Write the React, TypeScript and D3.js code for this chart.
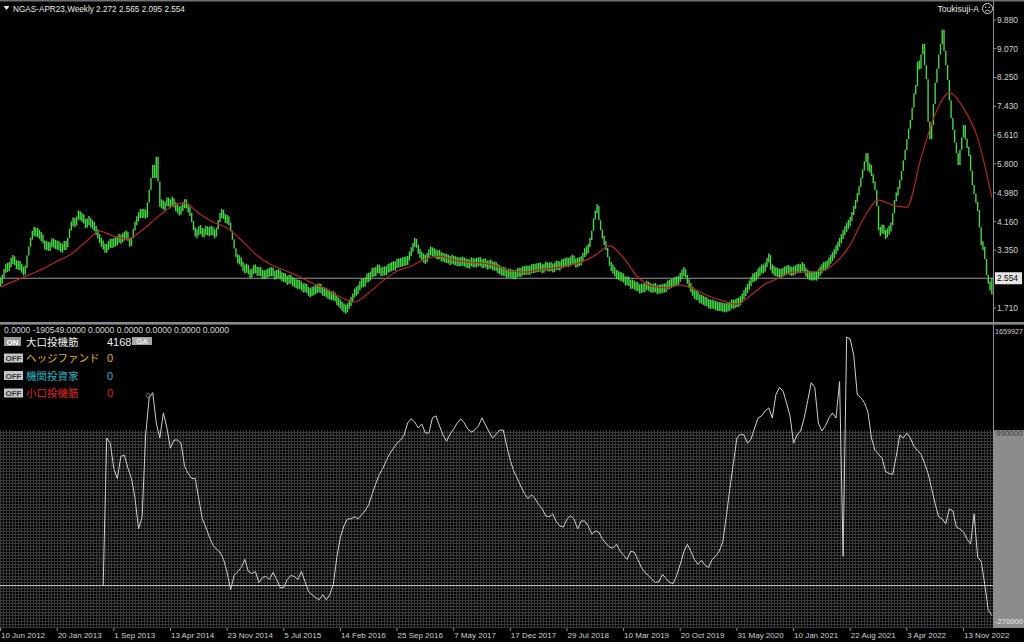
import React from "react";
import * as d3 from "d3";

// ---------- DATA ----------
// Weekly closes of NGAS-APR23 (first bar = week of 10 Jun 2012)
const priceCloses: number[] = [
  2.45, 2.60, 2.78, 2.90, 2.82, 2.95, 3.05, 3.12, 2.98, 2.90,
  2.95, 2.88, 2.80, 2.72, 2.85, 3.20, 3.45, 3.70, 3.85, 3.92,
  3.80, 3.90, 3.70, 3.78, 3.55, 3.44, 3.52, 3.40, 3.50, 3.62,
  3.48, 3.55, 3.45, 3.50, 3.36, 3.45, 3.52, 3.44, 3.70, 3.95,
  4.12, 4.20, 4.05, 4.30, 4.40, 4.25, 4.32, 4.15, 4.06, 4.18,
  4.20, 4.05, 4.10, 3.95, 3.87, 3.75, 3.60, 3.55, 3.45, 3.36,
  3.45, 3.52, 3.58, 3.50, 3.62, 3.55, 3.68, 3.70, 3.62, 3.78,
  3.72, 3.84, 3.65, 3.50, 3.70, 3.95, 4.12, 4.25, 4.35, 4.43,
  4.35, 4.45, 4.29, 4.70, 5.06, 5.40, 5.77, 5.40, 6.00, 5.30,
  4.58, 4.75, 4.52, 4.65, 4.80, 4.63, 4.70, 4.77, 4.62, 4.55,
  4.50, 4.43, 4.55, 4.62, 4.72, 4.60, 4.50, 4.40, 4.15, 3.95,
  3.78, 3.85, 3.95, 3.92, 3.80, 3.88, 3.95, 3.85, 3.90, 3.92,
  3.85, 3.78, 3.95, 4.20, 4.35, 4.43, 4.30, 4.20, 4.25, 4.12,
  3.90, 3.65, 3.40, 3.16, 3.05, 3.10, 2.93, 2.85, 2.78, 2.90,
  2.70, 2.65, 2.75, 2.85, 2.79, 2.72, 2.78, 2.70, 2.62, 2.68,
  2.65, 2.75, 2.70, 2.78, 2.68, 2.60, 2.72, 2.66, 2.65, 2.55,
  2.60, 2.52, 2.48, 2.55, 2.50, 2.42, 2.45, 2.35, 2.40, 2.36,
  2.30, 2.25, 2.32, 2.20, 2.15, 2.13, 2.22, 2.18, 2.28, 2.25,
  2.30, 2.22, 2.15, 2.20, 2.10, 2.08, 2.08, 2.02, 2.10, 1.95,
  1.90, 1.85, 1.80, 1.72, 1.70, 1.65, 1.78, 1.85, 1.94, 2.05,
  2.22, 2.15, 2.30, 2.38, 2.45, 2.40, 2.50, 2.62, 2.55, 2.68,
  2.75, 2.70, 2.79, 2.85, 2.78, 2.70, 2.80, 2.73, 2.80, 2.88,
  2.82, 2.95, 2.88, 2.93, 3.02, 2.95, 3.05, 2.98, 3.08, 3.00,
  3.12, 3.25, 3.36, 3.50, 3.64, 3.45, 3.30, 3.21, 3.15, 3.10,
  3.07, 3.20, 3.30, 3.36, 3.25, 3.30, 3.18, 3.25, 3.21, 3.12,
  3.18, 3.08, 3.15, 3.05, 3.07, 3.12, 3.02, 3.08, 2.98, 3.05,
  3.00, 3.08, 2.95, 3.02, 2.92, 2.99, 3.05, 2.95, 3.02, 2.98,
  3.06, 3.00, 2.94, 3.02, 2.96, 2.90, 2.98, 2.93, 2.88, 2.92,
  2.85, 2.80, 2.79, 2.72, 2.78, 2.70, 2.66, 2.74, 2.65, 2.70,
  2.62, 2.68, 2.75, 2.70, 2.73, 2.80, 2.74, 2.82, 2.76, 2.79,
  2.86, 2.80, 2.88, 2.82, 2.90, 2.85, 2.80, 2.88, 2.92, 2.84,
  2.90, 2.87, 2.82, 2.90, 2.95, 2.88, 2.93, 3.00, 2.95, 3.05,
  2.98, 3.02, 3.07, 3.12, 3.02, 2.96, 3.05, 3.00, 3.10, 3.20,
  3.36, 3.30, 3.50, 3.64, 3.90, 4.25, 4.45, 4.60, 4.20, 3.92,
  3.70, 3.55, 3.41, 3.15, 2.93, 2.85, 2.78, 2.70, 2.62, 2.66,
  2.56, 2.62, 2.50, 2.45, 2.52, 2.40, 2.36, 2.42, 2.30, 2.35,
  2.28, 2.22, 2.30, 2.25, 2.33, 2.38, 2.28, 2.30, 2.24, 2.32,
  2.26, 2.20, 2.28, 2.22, 2.30, 2.25, 2.32, 2.40, 2.36, 2.45,
  2.42, 2.50, 2.45, 2.55, 2.62, 2.70, 2.79, 2.60, 2.45, 2.35,
  2.22, 2.15, 2.05, 2.10, 2.00, 1.94, 1.98, 1.88, 1.92, 1.85,
  1.82, 1.80, 1.85, 1.76, 1.80, 1.72, 1.78, 1.71, 1.75, 1.68,
  1.76, 1.72, 1.80, 1.85, 1.78, 1.88, 1.84, 1.90, 1.94, 2.05,
  2.12, 2.22, 2.30, 2.42, 2.50, 2.62, 2.55, 2.68, 2.72, 2.79,
  2.85, 2.78, 2.95, 3.05, 3.21, 2.79, 2.85, 2.70, 2.78, 2.66,
  2.73, 2.65, 2.80, 2.72, 2.85, 2.75, 2.79, 2.70, 2.82, 2.76,
  2.88, 2.80, 2.85, 2.92, 2.75, 2.70, 2.62, 2.65, 2.58, 2.66,
  2.59, 2.64, 2.72, 2.79, 2.85, 2.92, 2.88, 2.98, 3.05, 3.13,
  3.20, 3.30, 3.42, 3.50, 3.64, 3.72, 3.85, 3.95, 4.05, 4.12,
  4.21, 4.40, 4.55, 4.75, 4.92, 5.15, 5.40, 5.63, 5.85, 6.10,
  5.60, 5.77, 5.45, 5.30, 5.06, 4.60, 3.92, 3.85, 4.05, 3.82,
  3.78, 3.90, 3.95, 4.06, 4.40, 4.77, 4.95, 5.10, 5.34, 5.60,
  5.90, 6.19, 6.50, 6.80, 7.04, 7.40, 7.80, 8.00, 8.70, 8.50,
  8.90, 9.20, 8.60, 8.20, 7.00, 6.50, 6.90, 7.50, 8.10, 8.50,
  8.90, 9.20, 9.60, 9.00, 8.60, 8.18, 7.60, 7.10, 6.76, 6.40,
  6.10, 5.77, 6.20, 6.55, 6.90, 6.50, 6.25, 6.05, 5.60, 5.20,
  4.95, 4.70, 4.49, 4.00, 3.50, 3.45, 3.10, 2.65, 2.40, 2.27, 2.554,
];

// Last bar OHLC (header)
const lastBarOHLC = [2.272, 2.565, 2.095, 2.554];

// Moving average (red), one reading every 8 weeks
const maStepWeeks = 8;
const maValues: number[] = [
  2.31, 2.48, 2.65, 2.82, 3.04, 3.24, 3.58, 3.89, 3.75, 3.67,
  3.92, 4.26, 4.57, 4.69, 4.40, 4.15, 3.98, 3.64, 3.24, 2.96,
  2.79, 2.62, 2.42, 2.25, 2.02, 1.88, 2.14, 2.48, 2.76, 2.90,
  3.10, 3.18, 3.07, 3.01, 2.99, 2.90, 2.76, 2.73, 2.79, 2.84,
  2.90, 3.01, 3.21, 3.47, 3.13, 2.59, 2.33, 2.28, 2.36, 2.25,
  2.05, 1.91, 1.82, 2.08, 2.39, 2.56, 2.73, 2.73, 2.76, 3.01,
  3.50, 4.29, 4.77, 4.63, 4.57, 5.97, 7.21, 7.81, 7.38, 6.53,
  4.85,
];

// Large speculators net position (thousands of contracts), every 2 weeks from week 58
const cotStartWeek = 58;
const cotStepWeeks = 2;
const cotNetThousands: number[] = [
  0, 940, 907, 747, 682, 824, 830, 747, 682, 554,
  361, 438, 959, 1197, 1229, 1036, 940, 1100, 1004, 875,
  927, 927, 907, 759, 714, 682, 682, 554, 425, 373,
  309, 258, 232, 213, 167, 84, -25, 65, 90, 116,
  167, 90, 77, 90, 20, 52, 58, 39, 84, 39,
  -13, -13, 39, 65, 58, 39, 90, 26, -38, -58,
  -77, -90, -58, -90, -58, 7, 180, 309, 380, 425,
  425, 438, 425, 451, 476, 515, 586, 650, 708, 747,
  798, 843, 875, 907, 927, 959, 1036, 1062, 1042, 1004,
  1030, 972, 972, 1068, 1081, 1017, 959, 920, 965, 997,
  1036, 1062, 1036, 997, 978, 991, 1017, 1068, 1023, 978,
  940, 965, 991, 991, 888, 798, 727, 682, 631, 586,
  554, 579, 554, 515, 489, 444, 438, 457, 406, 380,
  373, 425, 444, 425, 361, 412, 412, 380, 328, 348,
  341, 296, 270, 245, 238, 264, 219, 193, 167, 219,
  213, 167, 116, 84, 65, 39, 20, 26, 71, 45,
  20, 13, 65, 135, 213, 264, 219, 167, 135, 161,
  129, 116, 167, 187, 219, 277, 438, 618, 779, 940,
  965, 959, 907, 933, 1004, 1068, 1081, 1113, 1132, 1068,
  1216, 1261, 1242, 1165, 1081, 907, 959, 985, 1068, 1178,
  1293, 1261, 1036, 985, 1017, 1068, 1100, 1068, 1300, 187,
  1583, 1570, 1467, 1216, 1197, 1165, 1107, 940, 862, 837,
  811, 727, 714, 708, 824, 959, 940, 972, 940, 888,
  862, 837, 779, 714, 618, 521, 438, 425, 393, 489,
  476, 373, 361, 341, 296, 264, 457, 180, 155, 7,
  -154, -190.549,
];

const dateLabels = [
  "10 Jun 2012", "20 Jan 2013", "1 Sep 2013", "13 Apr 2014", "23 Nov 2014",
  "5 Jul 2015", "14 Feb 2016", "25 Sep 2016", "7 May 2017", "17 Dec 2017",
  "29 Jul 2018", "10 Mar 2019", "20 Oct 2019", "31 May 2020", "10 Jan 2021",
  "22 Aug 2021", "3 Apr 2022", "13 Nov 2022",
];
const priceTickValues = [9.88, 9.07, 8.25, 7.43, 6.61, 5.8, 4.98, 4.16, 3.35, 1.71];
const cotAxis = { max: 1659927, zone: 990000, min: -270000 };

const legendRows = [
  { btn: "ON", label: "大口投機筋", value: "4168", color: "#f0f0f0" },
  { btn: "OFF", label: "ヘッジファンド", value: "0", color: "#e6b422" },
  { btn: "OFF", label: "機関投資家", value: "0", color: "#22b8c8" },
  { btn: "OFF", label: "小口投機筋", value: "0", color: "#e02020" },
];
const bufferText = "0.0000 -190549.0000 0.0000 0.0000 0.0000 0.0000 0.0000";

// ---------- CHART ----------
const parseDate = d3.timeParse("%d %b %Y");
const weekDate = (i: number) => new Date(2012, 5, 10 + 7 * i);
const FONT = "'Liberation Sans', Arial, sans-serif";
const JP = "'Noto Sans CJK JP', 'Noto Sans', sans-serif";
const BAR_MIN_PX = 9; // minimum drawn bar height (visual)

export default function App() {
  const W = 1024, H = 642;
  const axisX = 993;
  const x = d3
    .scaleTime()
    .domain([parseDate(dateLabels[0]) as Date, parseDate(dateLabels[dateLabels.length - 1]) as Date])
    .range([0.5, 963.5]);
  const yP = d3.scaleLinear().domain([1.71, 9.88]).range([308, 20]);
  const yI = d3.scaleLinear().domain([cotAxis.min, cotAxis.max]).range([628, 325]);

  const maLine = d3
    .line<number>()
    .x((_, j) => x(weekDate(j * maStepWeeks)))
    .y((d) => yP(d))
    .curve(d3.curveMonotoneX);
  const cotLine = d3
    .line<number>()
    .x((_, k) => x(weekDate(cotStartWeek + k * cotStepWeeks)))
    .y((d) => yI(d * 1000));

  const last = priceCloses.length - 1;
  const bars = priceCloses.map((c, i) => {
    const o = i === last ? lastBarOHLC[0] : i === 0 ? c : priceCloses[i - 1];
    const hi = i === last ? lastBarOHLC[1] : Math.max(o, c);
    const lo = i === last ? lastBarOHLC[2] : Math.min(o, c);
    let y1 = yP(hi), y2 = yP(lo);
    if (y2 - y1 < BAR_MIN_PX) { const m = (y1 + y2) / 2; y1 = m - BAR_MIN_PX / 2; y2 = m + BAR_MIN_PX / 2; }
    const xx = x(weekDate(i));
    return <line key={i} x1={xx} x2={xx} y1={y1} y2={y2} stroke="#46d646" strokeWidth={1.4} />;
  });

  const zoneY = yI(cotAxis.zone);

  return (
    <svg width={W} height={H} style={{ position: "absolute", left: 0, top: 0, background: "#000" }}>
      <defs>
        <pattern id="grid" width="3" height="3" patternUnits="userSpaceOnUse">
          <rect width="3" height="3" fill="#000" />
          <rect width="3" height="1" fill="#383838" />
          <rect width="1" height="3" fill="#383838" />
        </pattern>
        <clipPath id="cTop"><rect x="0" y="2" width={axisX} height="320" /></clipPath>
        <clipPath id="cBot"><rect x="0" y="325" width={axisX} height="303" /></clipPath>
      </defs>
      <rect width={W} height={H} fill="#000" />
      {/* top border */}
      <rect x="0" y="0" width={W} height="1.5" fill="#707070" />

      {/* ---- price panel ---- */}
      <g clipPath="url(#cTop)">
        <line x1="0" x2={axisX} y1={yP(2.554)} y2={yP(2.554)} stroke="#9a9a9a" strokeWidth="1" />
        {bars}
        <path d={maLine(maValues) || ""} fill="none" stroke="#b4261e" strokeWidth="1.2" />
      </g>

      {/* header */}
      <path d="M3.5,6 L9.5,6 L6.5,10 Z" fill="#e8e8e8" />
      <text x="13" y="12" fontFamily={FONT} fontSize="8.2" fill="#e8e8e8">
        {"NGAS-APR23,Weekly  " + lastBarOHLC.map((v) => v.toFixed(3)).join(" ")}
      </text>
      <text x="979" y="12" textAnchor="end" fontFamily={FONT} fontSize="8.6" fill="#e8e8e8">Toukisuji-A</text>
      <circle cx="987.5" cy="8.5" r="5" fill="none" stroke="#dcdcdc" strokeWidth="1" />
      <circle cx="985.7" cy="7.2" r="0.8" fill="#dcdcdc" />
      <circle cx="989.3" cy="7.2" r="0.8" fill="#dcdcdc" />
      <path d="M985,11.3 Q987.5,8.8 990,11.3" fill="none" stroke="#dcdcdc" strokeWidth="0.9" />

      {/* price axis */}
      <line x1={axisX + 0.5} x2={axisX + 0.5} y1="0" y2="628" stroke="#8c8c8c" strokeWidth="1" />
      {priceTickValues.map((v) => (
        <g key={v}>
          <line x1={axisX} x2={axisX + 3} y1={yP(v)} y2={yP(v)} stroke="#8c8c8c" />
          <text x="997" y={yP(v) + 3} fontFamily={FONT} fontSize="8.4" fill="#d0d0d0">{v.toFixed(3)}</text>
        </g>
      ))}
      <rect x="995" y={yP(2.554) - 6} width="27" height="12" fill="#e6e6e6" />
      <text x="997" y={yP(2.554) + 3} fontFamily={FONT} fontSize="8.4" fill="#000">2.554</text>

      {/* panel separator */}
      <rect x="0" y="322" width={W} height="2.6" fill="#8a8a8a" />

      {/* ---- indicator panel ---- */}
      <rect x="0" y={zoneY} width={axisX} height={628 - zoneY} fill="url(#grid)" />
      <rect x={axisX + 1} y={zoneY} width={W - axisX - 1} height={628 - zoneY} fill="#8c8c8c" />
      <g clipPath="url(#cBot)">
        <line x1="0" x2={axisX} y1={yI(0)} y2={yI(0)} stroke="#cfcfcf" strokeWidth="1" />
        <path d={cotLine(cotNetThousands) || ""} fill="none" stroke="#cfcfcf" strokeWidth="1" />
      </g>
      <text x="995" y="334" fontFamily={FONT} fontSize="7.6" textLength="28" lengthAdjust="spacingAndGlyphs" fill="#d0d0d0">{String(cotAxis.max)}</text>
      <text x="996" y={zoneY + 6} fontFamily={FONT} fontSize="8" fill="#3a3a3a">{String(cotAxis.zone)}</text>
      <text x="995" y="624" fontFamily={FONT} fontSize="7.6" textLength="28" lengthAdjust="spacingAndGlyphs" fill="#eeeeee">{String(cotAxis.min)}</text>

      {/* indicator legend */}
      <text x="4" y="333" fontFamily={FONT} fontSize="8.6" fill="#d8d8d8">{bufferText}</text>
      {legendRows.map((r, i) => {
        const cy = [341.5, 358, 375.5, 393][i];
        const on = r.btn === "ON";
        return (
          <g key={r.label}>
            <rect x="4" y={cy - 4.5} width={on ? 17 : 19} height="9" fill={on ? "#9a9a9a" : "#c4c4c4"} />
            <text x={on ? 12.5 : 13.5} y={cy + 3} textAnchor="middle" fontFamily={FONT} fontSize="8" fontWeight="bold" fill={on ? "#ffffff" : "#3a3a3a"}>{r.btn}</text>
            <text x="26" y={cy + 4.2} fontFamily={JP} fontSize="10.5" fill={r.color}>{r.label}</text>
            <text x="107" y={cy + 4.2} fontFamily={FONT} fontSize="11" fill={r.color}>{r.value}</text>
          </g>
        );
      })}
      <rect x="132" y="337" width="20" height="8" fill="#a8a8a8" />
      <text x="142" y="344" textAnchor="middle" fontFamily={FONT} fontSize="8" fill="#ffffff">GA</text>
      <text x="146" y="398" fontFamily={FONT} fontSize="7" fill="#9a9a9a">0</text>

      {/* date axis */}
      {dateLabels.map((s) => {
        const xx = x(parseDate(s) as Date);
        return (
          <g key={s}>
            <line x1={xx} x2={xx} y1="628" y2="631" stroke="#8c8c8c" />
            <text x={xx + 0.5} y="638" fontFamily={FONT} fontSize="8" fill="#d0d0d0">{s}</text>
          </g>
        );
      })}
    </svg>
  );
}
